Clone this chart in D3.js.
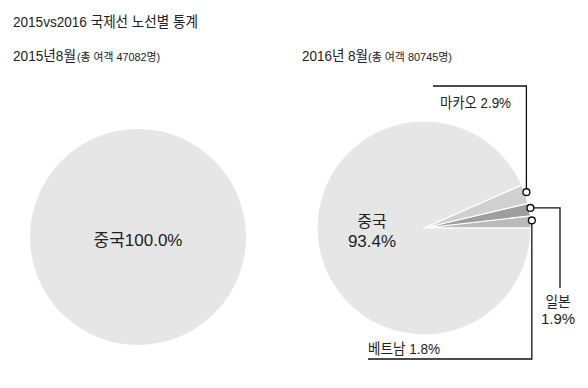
<!DOCTYPE html>
<html>
<head>
<meta charset="utf-8">
<script src="https://cdn.jsdelivr.net/npm/d3@7"></script>
<style>
  body { margin: 0; background: #fff; }
  svg { font-family: "Liberation Sans", "Noto Sans CJK KR", sans-serif; }
</style>
</head>
<body>
<div id="chart"></div>
<script>
'use strict';

// data
var routes2015 = ['중국'];
var shares2015 = [100.0];
var routes2016 = ['베트남', '일본', '마카오', '중국'];
var shares2016 = [1.8, 1.9, 2.9, 93.4];
var sliceColors = ['#bababa', '#9e9e9e', '#d0d0d0', '#e6e6e6'];

var title = '2015vs2016 국제선 노선별 통계';
var sub2015 = ['2015년8월', '(총 여객 47082명)'];
var sub2016 = ['2016년 8월', '(총 여객 80745명)'];

var width = 588, height = 388;
var svg = d3.select('#chart').append('svg')
  .attr('width', width)
  .attr('height', height);

function label(x, y, str, size, len, anchor) {
  var t = svg.append('text')
    .attr('x', x).attr('y', y)
    .attr('font-size', size)
    .attr('fill', '#222')
    .attr('text-anchor', anchor || 'start')
    .text(str);
  if (len) {
    t.attr('textLength', len).attr('lengthAdjust', 'spacingAndGlyphs');
  }
  return t;
}

// titles
label(13, 27, title, 15, 185);
label(13, 61, sub2015[0], 15, 63);
label(77, 61, sub2015[1], 11, 83);
label(302, 61, sub2016[0], 15, 66);
label(368, 61, sub2016[1], 11, 84);

var r = 108;

// 2015 pie
var pie2015 = d3.pie().sort(null)(shares2015);
var arc = d3.arc().innerRadius(0).outerRadius(r);
var g1 = svg.append('g').attr('transform', 'translate(138,237)');
g1.selectAll('path').data(pie2015).enter().append('path')
  .attr('d', arc)
  .attr('fill', '#e6e6e6');
g1.append('text')
  .attr('y', 9)
  .attr('text-anchor', 'middle')
  .attr('font-size', 17)
  .attr('fill', '#222')
  .text(routes2015[0] + d3.format('.1f')(shares2015[0]) + '%');

// 2016 pie, counter-clockwise from 3 o'clock
var cx = 424, cy = 228, r2 = 107;
var pie2016 = d3.pie().sort(null)
  .startAngle(Math.PI / 2)
  .endAngle(Math.PI / 2 - 2 * Math.PI)(shares2016);
var arc2 = d3.arc().innerRadius(0).outerRadius(r2);
var g2 = svg.append('g').attr('transform', 'translate(' + cx + ',' + cy + ')');
g2.selectAll('path').data(pie2016).enter().append('path')
  .attr('d', arc2)
  .attr('fill', function(d, i) { return sliceColors[i]; })
  .attr('stroke', '#fff')
  .attr('stroke-width', 1.2)
  .attr('stroke-linejoin', 'round');

g2.append('text')
  .attr('x', -52).attr('y', -1)
  .attr('text-anchor', 'middle')
  .attr('font-size', 16)
  .attr('fill', '#222')
  .text(routes2016[3]);
g2.append('text')
  .attr('x', -52).attr('y', 19)
  .attr('text-anchor', 'middle')
  .attr('font-size', 17)
  .attr('fill', '#222')
  .text(d3.format('.1f')(shares2016[3]) + '%');

// marker on the outer edge of each small slice
function edgePoint(d) {
  var a = (d.startAngle + d.endAngle) / 2;
  return [cx + (r2 + 1) * Math.sin(a), cy - (r2 + 1) * Math.cos(a) - 1.5];
}

var pts = pie2016.slice(0, 3).map(edgePoint);
var fmt = function(v) { return d3.format('.1f')(v) + '%'; };

var leaders = [
  // 베트남: down, then left
  [[pts[0][0], pts[0][1]], [pts[0][0], 359], [368, 359]],
  // 일본: right, then down
  [[pts[1][0], pts[1][1]], [560, pts[1][1]], [560, 288]],
  // 마카오: up, then left
  [[pts[2][0], pts[2][1]], [pts[2][0], 86], [433, 86]]
];

var line = d3.line();
svg.selectAll('path.leader').data(leaders).enter().append('path')
  .attr('class', 'leader')
  .attr('d', line)
  .attr('fill', 'none')
  .attr('stroke', '#111')
  .attr('stroke-width', 1.3);

svg.selectAll('circle.marker').data(pts).enter().append('circle')
  .attr('class', 'marker')
  .attr('cx', function(d) { return d[0]; })
  .attr('cy', function(d) { return d[1]; })
  .attr('r', 3.4)
  .attr('fill', '#fff')
  .attr('stroke', '#111')
  .attr('stroke-width', 1.4);

label(440, 108, routes2016[2] + ' ' + fmt(shares2016[2]), 15, 71);
label(558, 307, routes2016[1], 15, 25, 'middle');
label(558, 324, fmt(shares2016[1]), 15, null, 'middle');
label(368, 354, routes2016[0] + ' ' + fmt(shares2016[0]), 15, 72);
</script>
</body>
</html>
